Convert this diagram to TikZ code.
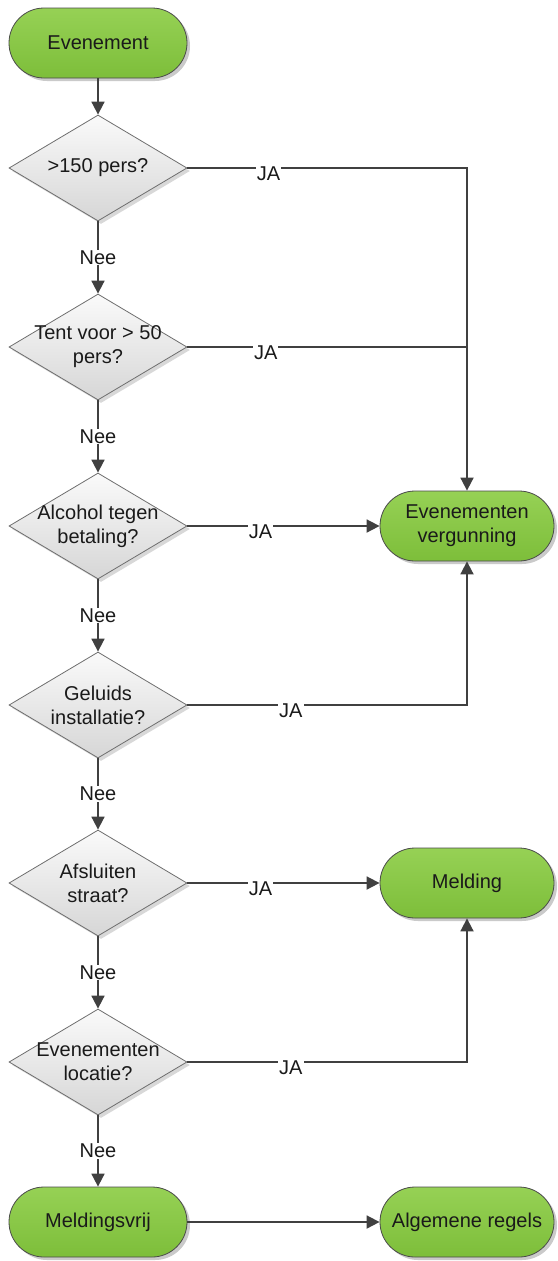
\documentclass[tikz,border=0pt]{standalone}
\usepackage{fontspec}
\setmainfont{Liberation Sans}
\usetikzlibrary{shapes.geometric,arrows.meta,shadows}

\definecolor{lijnkleur}{HTML}{404040}
\definecolor{randkleur}{HTML}{4A4A4A}
\definecolor{groenboven}{HTML}{96D155}
\definecolor{groenonder}{HTML}{7DBE3A}
\definecolor{grijsboven}{HTML}{FAFAFA}
\definecolor{grijsonder}{HTML}{D6D6D6}
\definecolor{tekstkleur}{HTML}{1A1A1A}

\tikzset{
  tekst/.style={font=\fontsize{20}{24}\selectfont, text=tekstkleur, align=center},
  pil/.style={tekst, rectangle, rounded corners=35pt, minimum width=178pt, minimum height=70pt,
    draw=randkleur, line width=0.8pt, top color=groenboven, bottom color=groenonder,
    drop shadow={shadow xshift=3pt, shadow yshift=-3pt, fill=black!35, opacity=0.6}},
  keuze/.style={diamond, minimum width=178pt, minimum height=106pt, inner sep=0pt,
    draw=randkleur!80, line width=0.8pt, top color=grijsboven, bottom color=grijsonder,
    drop shadow={shadow xshift=3pt, shadow yshift=-3pt, fill=black!30, opacity=0.5}},
  lijn/.style={line width=1.8pt, draw=lijnkleur},
  pijl/.style={lijn, -{Triangle[length=13pt,width=13pt]}},
  antwoord/.style={tekst, fill=white, inner sep=1pt},
}

\begin{document}
\begin{tikzpicture}[x=1pt,y=-1pt]
  \useasboundingbox (0,0) rectangle (557,1261);

  % start
  \node[pil] (evenement) at (98,43) {Evenement};

  % keuzes
  \node[keuze, label={[tekst]center:>150 pers?}] (k1) at (98,168) {};
  \node[keuze, label={[tekst]center:{Tent voor > 50\\pers?}}] (k2) at (98,347) {};
  \node[keuze, label={[tekst]center:{Alcohol tegen\\betaling?}}] (k3) at (98,526) {};
  \node[keuze, label={[tekst]center:{Geluids\\installatie?}}] (k4) at (98,705) {};
  \node[keuze, label={[tekst]center:{Afsluiten\\straat?}}] (k5) at (98,883) {};
  \node[keuze, label={[tekst]center:{Evenementen\\locatie?}}] (k6) at (98,1062) {};

  % uitkomsten
  \node[pil, minimum width=174pt] (vergunning) at (467,526) {Evenementen\\vergunning};
  \node[pil, minimum width=174pt] (melding) at (467,883) {Melding};
  \node[pil] (vrij) at (98,1222) {Meldingsvrij};
  \node[pil, minimum width=174pt] (regels) at (467,1222) {Algemene regels};

  % Nee
  \draw[pijl] (evenement) -- (k1);
  \draw[pijl] (k1) -- node[antwoord] (nee1) {Nee} (k2);
  \draw[pijl] (k2) -- node[antwoord] (nee2) {Nee} (k3);
  \draw[pijl] (k3) -- node[antwoord] (nee3) {Nee} (k4);
  \draw[pijl] (k4) -- node[antwoord] (nee4) {Nee} (k5);
  \draw[pijl] (k5) -- node[antwoord] (nee5) {Nee} (k6);
  \draw[pijl] (k6) -- node[antwoord] (nee6) {Nee} (vrij);

  % JA
  \coordinate (hoek2) at (vergunning.north |- k2.east);
  \draw[pijl] (k1.east) -| node[antwoord, pos=0.145, yshift=-6pt] (ja1) {JA} (vergunning.north);
  \draw[lijn] (k2.east) -- node[antwoord, pos=0.28, yshift=-6pt] (ja2) {JA} (hoek2);
  \draw[pijl] (k3.east) -- node[antwoord, pos=0.38, yshift=-6pt] (ja3) {JA} (vergunning.west);
  \draw[pijl] (k4.east) -| node[antwoord, pos=0.185, yshift=-6pt] (ja4) {JA} (vergunning.south);
  \draw[pijl] (k5.east) -- node[antwoord, pos=0.38, yshift=-6pt] (ja5) {JA} (melding.west);
  \draw[pijl] (k6.east) -| node[antwoord, pos=0.185, yshift=-6pt] (ja6) {JA} (melding.south);
  \draw[pijl] (vrij) -- (regels);
\end{tikzpicture}
\end{document}
